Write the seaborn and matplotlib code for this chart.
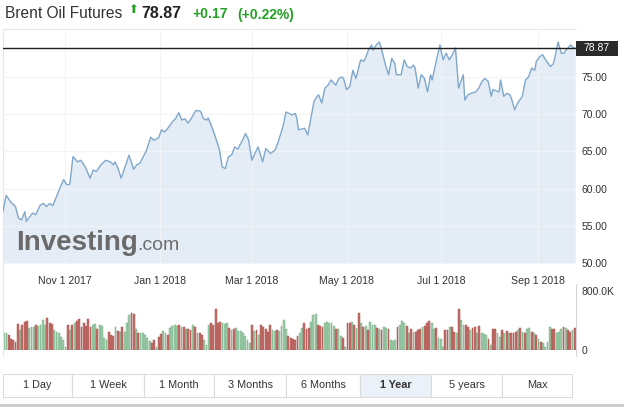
import numpy as np
import pandas as pd
import matplotlib
matplotlib.use("Agg")
import matplotlib.pyplot as plt
import matplotlib.transforms as mtransforms
from matplotlib.patches import Rectangle
from matplotlib.lines import Line2D
import seaborn as sns

# ---------------- data ----------------
title = "Brent Oil Futures"
last_price = 78.87
change = "+0.17"
change_pct = "(+0.22%)"

dates = [
    "2017-09-22", "2017-09-24", "2017-09-27", "2017-09-30", "2017-10-02", "2017-10-04",
    "2017-10-06", "2017-10-07", "2017-10-11", "2017-10-13", "2017-10-16", "2017-10-18",
    "2017-10-20", "2017-10-22", "2017-10-24", "2017-10-26", "2017-10-29", "2017-10-31",
    "2017-11-02", "2017-11-04", "2017-11-06", "2017-11-09", "2017-11-11", "2017-11-14",
    "2017-11-17", "2017-11-19", "2017-11-21", "2017-11-24", "2017-11-27", "2017-11-30",
    "2017-12-02", "2017-12-03", "2017-12-05", "2017-12-07", "2017-12-10", "2017-12-12",
    "2017-12-15", "2017-12-17", "2017-12-19", "2017-12-23", "2017-12-26", "2017-12-28",
    "2017-12-31", "2018-01-02", "2018-01-04", "2018-01-06", "2018-01-09", "2018-01-11",
    "2018-01-13", "2018-01-15", "2018-01-17", "2018-01-19", "2018-01-21", "2018-01-24",
    "2018-01-27", "2018-01-29", "2018-01-31", "2018-02-01", "2018-02-04", "2018-02-08",
    "2018-02-10", "2018-02-12", "2018-02-14", "2018-02-16", "2018-02-18", "2018-02-20",
    "2018-02-23", "2018-02-25", "2018-02-27", "2018-03-01", "2018-03-03", "2018-03-05",
    "2018-03-08", "2018-03-10", "2018-03-13", "2018-03-16", "2018-03-18", "2018-03-21",
    "2018-03-23", "2018-03-27", "2018-03-29", "2018-03-30", "2018-03-31", "2018-04-04",
    "2018-04-06", "2018-04-10", "2018-04-12", "2018-04-13", "2018-04-15", "2018-04-17",
    "2018-04-19", "2018-04-21", "2018-04-24", "2018-04-26", "2018-04-28", "2018-04-29",
    "2018-05-01", "2018-05-03", "2018-05-05", "2018-05-07", "2018-05-10", "2018-05-12",
    "2018-05-13", "2018-05-15", "2018-05-17", "2018-05-18", "2018-05-20", "2018-05-22",
    "2018-05-23", "2018-05-26", "2018-05-28", "2018-05-30", "2018-06-01", "2018-06-02",
    "2018-06-05", "2018-06-07", "2018-06-09", "2018-06-11", "2018-06-13", "2018-06-14",
    "2018-06-16", "2018-06-18", "2018-06-20", "2018-06-22", "2018-06-24", "2018-06-25",
    "2018-06-28", "2018-06-30", "2018-07-02", "2018-07-04", "2018-07-06", "2018-07-08",
    "2018-07-10", "2018-07-12", "2018-07-15", "2018-07-16", "2018-07-18", "2018-07-20",
    "2018-07-23", "2018-07-25", "2018-07-27", "2018-07-29", "2018-07-31", "2018-08-02",
    "2018-08-03", "2018-08-07", "2018-08-08", "2018-08-10", "2018-08-12", "2018-08-14",
    "2018-08-15", "2018-08-17", "2018-08-19", "2018-08-22", "2018-08-24", "2018-08-26",
    "2018-08-28", "2018-08-30", "2018-08-31", "2018-09-02", "2018-09-04", "2018-09-06",
    "2018-09-09", "2018-09-11", "2018-09-12", "2018-09-14", "2018-09-16", "2018-09-18",
    "2018-09-19", "2018-09-22", "2018-09-24", "2018-09-25",
]
prices = [
    56.9, 59.1, 58.2, 57.6, 56.0, 55.8,
    56.9, 55.6, 56.7, 56.5, 57.8, 58.0,
    57.6, 58.0, 57.7, 58.7, 60.3, 61.2,
    60.5, 60.6, 64.3, 63.6, 63.8, 62.9,
    61.4, 62.5, 62.3, 63.2, 63.8, 63.6,
    63.2, 63.6, 62.7, 61.4, 63.2, 64.5,
    62.6, 63.2, 63.4, 65.0, 66.9, 66.5,
    66.8, 67.9, 67.6, 68.1, 69.0, 69.4,
    70.2, 69.2, 69.4, 68.8, 69.4, 70.5,
    70.4, 69.4, 69.2, 69.5, 67.9, 65.4,
    62.9, 62.7, 64.3, 64.5, 65.6, 65.3,
    66.5, 67.4, 66.5, 63.8, 64.7, 65.6,
    63.6, 65.4, 64.7, 65.2, 66.3, 68.3,
    70.3, 69.9, 70.1, 69.4, 67.9, 68.1,
    67.2, 71.7, 72.4, 72.6, 71.5, 73.5,
    73.9, 74.6, 73.9, 74.8, 75.0, 74.8,
    73.3, 73.7, 75.9, 74.8, 77.3, 77.1,
    77.5, 78.6, 79.3, 78.6, 79.3, 79.7,
    79.1, 76.6, 75.3, 77.5, 76.8, 75.3,
    75.3, 77.3, 76.4, 76.2, 76.6, 76.2,
    73.5, 75.3, 74.8, 73.0, 75.3, 74.6,
    77.5, 79.3, 77.3, 78.2, 77.3, 78.0,
    78.9, 73.5, 75.3, 71.9, 72.6, 72.8,
    73.0, 73.5, 74.4, 74.8, 74.4, 72.4,
    73.3, 73.0, 74.6, 72.4, 72.8, 72.6,
    72.1, 70.6, 71.5, 72.4, 74.6, 75.0,
    76.2, 75.9, 77.1, 77.7, 78.0, 77.3,
    76.4, 76.8, 77.7, 79.7, 78.2, 78.2,
    78.6, 79.3, 78.9, 78.87,
]

# volume (thousands) and candle direction (G = up / green, R = down / red)
volumes = [
    226, 226, 203, 145, 136, 113, 353, 271, 339, 375,
    393, 303, 307, 316, 339, 330, 339, 407, 339, 429,
    362, 348, 271, 249, 226, 181, 136, 45, 339, 271,
    339, 362, 398, 416, 316, 362, 325, 416, 307, 339,
    353, 280, 339, 325, 158, 136, 249, 203, 190, 307,
    262, 249, 307, 249, 362, 475, 497, 488, 280, 226,
    235, 226, 203, 158, 127, 90, 136, 45, 181, 217,
    262, 235, 203, 294, 325, 339, 325, 339, 316, 316,
    280, 280, 271, 339, 307, 226, 235, 203, 136, 68,
    339, 362, 339, 551, 362, 384, 362, 348, 362, 294,
    271, 280, 294, 258, 253, 235, 190, 136, 90, 339,
    262, 271, 203, 339, 307, 280, 249, 339, 271, 262,
    271, 262, 325, 407, 280, 190, 158, 145, 136, 194,
    235, 294, 371, 280, 294, 384, 475, 488, 339, 325,
    307, 362, 384, 371, 362, 325, 280, 280, 190, 158,
    45, 362, 371, 380, 339, 294, 506, 371, 316, 325,
    271, 384, 339, 339, 294, 280, 271, 307, 294, 280,
    136, 127, 136, 307, 339, 398, 362, 325, 226, 280,
    249, 249, 271, 280, 307, 325, 362, 398, 371, 280,
    294, 158, 145, 45, 271, 271, 316, 307, 249, 226,
    551, 407, 339, 339, 307, 271, 294, 307, 235, 325,
    235, 217, 203, 145, 68, 280, 280, 235, 181, 271,
    226, 262, 235, 226, 235, 249, 271, 294, 249, 235,
    280, 294, 249, 235, 203, 145, 113, 90, 45, 113,
    316, 280, 280, 235, 249, 280, 307, 294, 271, 249,
    271, 294,
]
directions = list(
    "GGRRRRRGRR" "RGGGRGGGGR" "RRGGGGGGRG" "RGRRRRRRRG" "GRGGGGRRRG"
    "RGRGGGRRGR" "GGGGGRRGRR" "GGRGGGGRGR" "GRRGRGRRGG" "GRRRRRGGGR"
    "GRGGGGGGGR" "GRGRRRRRGG" "RGGGGRRRRR" "GGRRRGGGRR" "RGGGGGRGGR"
    "GRRGRGRGRG" "RGGGRGRGGR" "GGGRGGGRGR" "GRRRGRRRGG" "RGGGRRGRRG"
    "RGGRRGRRGR" "GGGRGRRGGR" "GRGRRRGRGR" "GGRGRGRGGG" "GRRGGGRGRR"
    "GR"
)

tick_dates = ["2017-11-01", "2018-01-01", "2018-03-01", "2018-05-01", "2018-07-01", "2018-09-01"]
tick_labels = ["Nov 1 2017", "Jan 1 2018", "Mar 1 2018", "May 1 2018", "Jul 1 2018", "Sep 1 2018"]
price_ticks = [50, 55, 60, 65, 70, 75]
buttons = ["1 Day", "1 Week", "1 Month", "3 Months", "6 Months", "1 Year", "5 years", "Max"]
active_button = "1 Year"

# ---------------- style ----------------
sns.set_style("white")
plt.rcParams["font.family"] = ["Liberation Sans", "DejaVu Sans"]

W, H = 624, 409
fig = plt.figure(figsize=(W / 100, H / 100), dpi=100)


def fx(p):
    return p / W


def fy(p):
    return 1 - p / H


LINE = "#7fa7cc"
FILL = "#e4ecf5"
TXT = "#333333"
GREEN = "#22a022"
UP = "#93d6a5"
DOWN = "#d65e58"

# ---------------- price panel ----------------
ax = fig.add_axes([fx(3), fy(263), (576 - 3) / W, (263 - 29) / H])
df = pd.DataFrame({"date": pd.to_datetime(dates), "price": prices})
ax.fill_between(df["date"], df["price"], 50, color=FILL, lw=0, zorder=1)
sns.lineplot(data=df, x="date", y="price", ax=ax, color=LINE, lw=1.0, zorder=3)
ax.set_xlim(pd.Timestamp("2017-09-22"), pd.Timestamp("2018-09-25 12:00"))
ax.set_ylim(50, 81.45)
ax.set_xlabel("")
ax.set_ylabel("")
ax.set_xticks(pd.to_datetime(tick_dates))
ax.set_xticklabels(tick_labels)
ax.yaxis.tick_right()
ax.set_yticks(price_ticks)
ax.set_yticklabels([f"{v:.2f}" for v in price_ticks])
ax.tick_params(axis="x", length=0, pad=9, labelsize=7.6, labelcolor=TXT)
ax.tick_params(axis="y", length=0, pad=4, labelsize=7.5, labelcolor=TXT)
ax.grid(True, color="#f1f3f6", lw=0.8, zorder=2)
ax.set_axisbelow(False)
for s in ["right", "bottom"]:
    ax.spines[s].set_visible(False)
for s in ["top", "left"]:
    ax.spines[s].set_color("#e6e6e6")
    ax.spines[s].set_linewidth(0.8)

# current price line + label
ax.axhline(last_price, color="#1e1e1e", lw=1.0, zorder=4)
blend = mtransforms.blended_transform_factory(ax.transAxes, ax.transData)
ax.add_patch(Rectangle((1.0, last_price - 1.0), 42 / 573, 2.0, transform=blend,
                       fc="#2a2a2a", ec="none", clip_on=False, zorder=5))
ax.text(1.0 + 21 / 573, last_price, f"{last_price:.2f}", transform=blend, ha="center",
        va="center", color="white", fontsize=7.5, clip_on=False, zorder=6)

# watermark
fig.text(fx(16), fy(250), "Investing", fontsize=20, fontweight="bold", color="#6a6a6a",
         va="baseline", ha="left", zorder=10)
fig.text(fx(137), fy(250), ".com", fontsize=14, color="#6e6e6e",
         va="baseline", ha="left", zorder=10)

# ---------------- volume panel ----------------
n = min(len(volumes), len(directions))
axv = fig.add_axes([fx(3), fy(350), (576 - 3) / W, (350 - 291) / H])
vdf = pd.DataFrame({"i": np.arange(n), "vol": np.array(volumes[:n]) * 1000,
                    "dir": directions[:n]})
sns.barplot(data=vdf, x="i", y="vol", hue="dir", palette={"G": UP, "R": DOWN},
            dodge=False, legend=False, native_scale=True, width=0.8, ax=axv,
            linewidth=0)
for p in axv.patches:
    c = np.array(matplotlib.colors.to_rgb(p.get_facecolor()))
    p.set_edgecolor(c * 0.82)
    p.set_linewidth(0.35)
axv.set_xlim(-0.5, n - 0.5)
axv.set_ylim(0, 800000)
axv.set_xlabel("")
axv.set_ylabel("")
axv.set_xticks([])
axv.yaxis.tick_right()
axv.set_yticks([0, 800000])
axv.set_yticklabels(["0", "800.0K"])
axv.tick_params(axis="y", length=0, pad=4, labelsize=7.5, labelcolor=TXT)
for s in ["top", "bottom", "left", "right"]:
    axv.spines[s].set_visible(False)

# frame lines
fig.add_artist(Line2D([fx(3), fx(3)], [fy(263), fy(356)], color="#e6e6e6", lw=0.8))
fig.add_artist(Line2D([fx(576), fx(576)], [fy(284), fy(356)], color="#d6d6d6", lw=0.8))

# ---------------- header ----------------
fig.text(fx(5), fy(14), title, fontsize=11.2, color="#333333", va="center", ha="left")
fig.text(fx(133), fy(9.5), "\u2b06", fontsize=8.5, color=GREEN, va="center", ha="center",
         family="DejaVu Sans")
fig.text(fx(141), fy(14), f"{last_price:.2f}", fontsize=11.5, fontweight="bold",
         color="#222222", va="center", ha="left")
fig.text(fx(192), fy(14.5), change, fontsize=10, fontweight="bold", color=GREEN,
         va="center", ha="left")
fig.text(fx(237), fy(14.5), change_pct, fontsize=10, fontweight="bold", color=GREEN,
         va="center", ha="left")

# ---------------- range buttons ----------------
edges = [3, 72, 144, 214, 286, 360, 431, 502, 572]
top, bot = 374, 397
for k, lab in enumerate(buttons):
    x0, x1 = edges[k], edges[k + 1]
    active = lab == active_button
    fig.add_artist(Rectangle((fx(x0), fy(bot)), (x1 - x0) / W, (bot - top) / H,
                             transform=fig.transFigure,
                             fc="#eaf1f8" if active else "white",
                             ec="#dcdcdc", lw=0.8))
    fig.text(fx((x0 + x1) / 2), fy((top + bot) / 2), lab, fontsize=7.8,
             fontweight="bold" if active else "normal", color="#333333",
             ha="center", va="center")
fig.add_artist(Line2D([0, 1], [fy(405), fy(405)], color="#c9c9c9", lw=2))

fig.savefig("out.png", dpi=100)
